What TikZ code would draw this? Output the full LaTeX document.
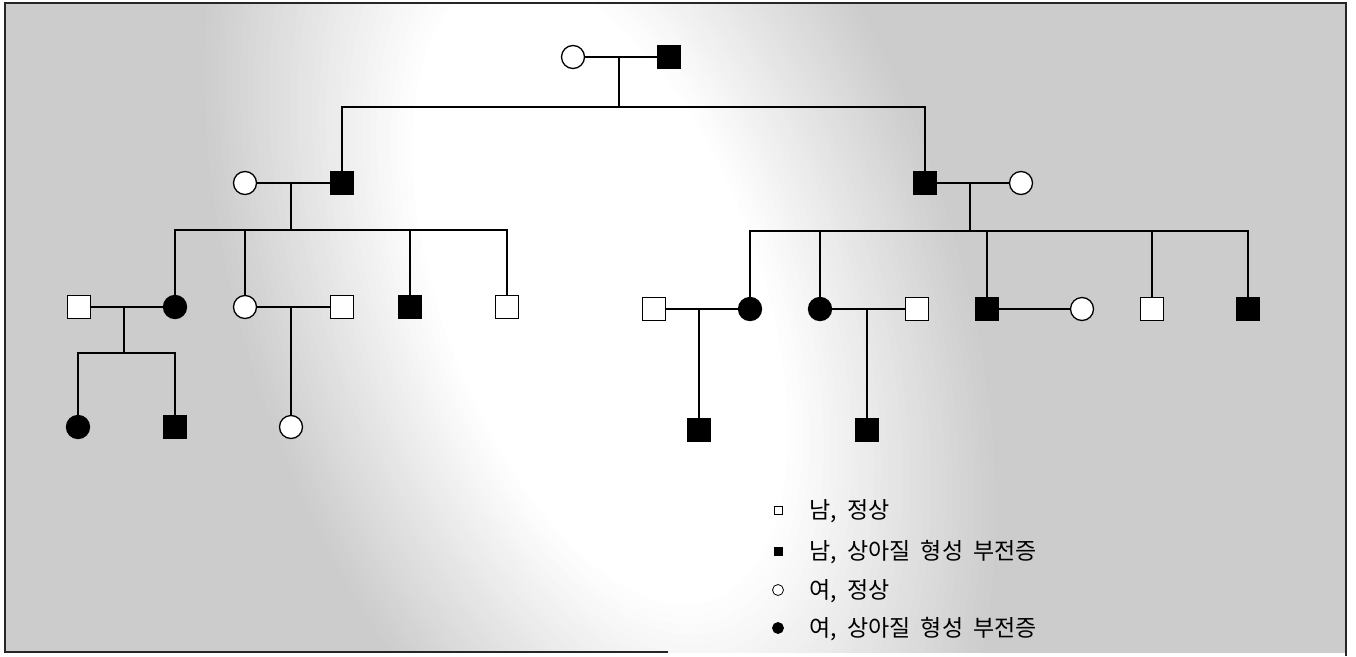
\documentclass[tikz,border=0pt]{standalone}
\usepackage{fontspec}
\newfontfamily\kr[WordSpace=2]{Noto Sans CJK KR}
\usetikzlibrary{calc}
\colorlet{bgray}{black!20}
\tikzset{
  ind/.style={draw=black, line width=1.3pt, inner sep=0pt, fill=white},
  msq/.style={ind, rectangle, minimum size=23pt},
  fci/.style={ind, circle, minimum size=23pt},
  aff/.style={fill=black},
  link/.style={line width=1.2pt, draw=black},
  lgsq/.style={draw=black, line width=0.8pt, rectangle, minimum size=8pt, inner sep=0pt, fill=white},
  lgci/.style={draw=black, line width=0.8pt, circle, minimum size=11pt, inner sep=0pt, fill=white},
  lgtext/.style={anchor=west, inner sep=0pt, font=\kr\fontsize{23}{23}\selectfont},
  frame/.style={line width=1.5pt, draw=black!85}
}
\begin{document}
\begin{tikzpicture}[x=1pt, y=-1pt]
\useasboundingbox (0,0) rectangle (1356,656);
% background (scanned stipple look): grey with a soft white diagonal band
\begin{scope}
  \clip (5,3) rectangle (1346,652);
  \fill[bgray] (0,0) rectangle (1356,656);
  \begin{scope}[transform canvas={shift={(600,290)}, rotate=-70}]
    \foreach \i in {0,...,30} {
      \pgfmathsetmacro\t{\i/30}
      \pgfmathsetmacro\pc{100*\t}
      \pgfmathsetmacro\ra{640-\t*(640-330)}
      \pgfmathsetmacro\rb{360-\t*(360-160)}
      \fill[white!\pc!bgray] (0,0) ellipse [x radius=\ra, y radius=\rb];
    }
  \end{scope}
\end{scope}
\draw[frame] (668,652) -- (5,652) -- (5,3) -- (1346,3) -- (1346,656);

% generation I
\node[fci] (I1) at (573,57) {};
\node[msq, aff] (I2) at (669,57) {};
% generation II
\node[fci] (II1) at (245,183) {};
\node[msq, aff] (II2) at (342,183) {};
\node[msq, aff] (II3) at (925,183) {};
\node[fci] (II4) at (1021,183) {};
% generation III
\node[msq] (III1) at (79,307) {};
\node[fci, aff] (III2) at (175,307) {};
\node[fci] (III3) at (245,307) {};
\node[msq] (III4) at (342,307) {};
\node[msq, aff] (III5) at (410,307) {};
\node[msq] (III6) at (507,307) {};
\node[msq] (III7) at (654,309) {};
\node[fci, aff] (III8) at (750,309) {};
\node[fci, aff] (III9) at (820,309) {};
\node[msq] (III10) at (917,309) {};
\node[msq, aff] (III11) at (987,309) {};
\node[fci] (III12) at (1082,309) {};
\node[msq] (III13) at (1152,309) {};
\node[msq, aff] (III14) at (1248,309) {};
% generation IV
\node[fci, aff] (IV1) at (78,427) {};
\node[msq, aff] (IV2) at (175,427) {};
\node[fci] (IV3) at (291,427) {};
\node[msq, aff] (IV4) at (699,430) {};
\node[msq, aff] (IV5) at (867,430) {};

% junction coordinates
\coordinate (m1) at (619,57);   \coordinate (j1) at (619,107);
\coordinate (m2) at (291,183);  \coordinate (j2) at (291,230);
\coordinate (m3) at (970,183);  \coordinate (j3) at (970,231);
\coordinate (m4) at (124,307);  \coordinate (j4) at (124,353);
\coordinate (m5) at (291,307);
\coordinate (m6) at (699,309);
\coordinate (m7) at (867,309);

% matings
\draw[link] (I1) -- (I2);
\draw[link] (II1) -- (II2);
\draw[link] (II3) -- (II4);
\draw[link] (III1) -- (III2);
\draw[link] (III3) -- (III4);
\draw[link] (III7) -- (III8);
\draw[link] (III9) -- (III10);
\draw[link] (III11) -- (III12);

% descent I -> II
\draw[link] (m1) -- (j1);
\draw[link] (II2) |- (j1) -| (II3);
% descent II(left) -> III
\draw[link] (m2) -- (j2);
\draw[link] (III2) |- (j2) -| (III6);
\draw[link] (III3) -- (III3 |- j2);
\draw[link] (III5) -- (III5 |- j2);
% descent II(right) -> III
\draw[link] (m3) -- (j3);
\draw[link] (III8) |- (j3) -| (III14);
\draw[link] (III9) -- (III9 |- j3);
\draw[link] (III11) -- (III11 |- j3);
\draw[link] (III13) -- (III13 |- j3);
% descent III -> IV
\draw[link] (m4) -- (j4);
\draw[link] (IV1) |- (j4) -| (IV2);
\draw[link] (m5) -- (IV3);
\draw[link] (m6) -- (IV4);
\draw[link] (m7) -- (IV5);

% legend
\node[lgsq] (L1) at (778,510) {};
\node[lgsq, fill=black] (L2) at (778,551) {};
\node[lgci] (L3) at (778,590) {};
\node[lgci, fill=black] (L4) at (778,628) {};
\node[lgtext] (T1) at (809,511) {남, 정상};
\node[lgtext] (T2) at (809,552) {남, 상아질 형성 부전증};
\node[lgtext] (T3) at (809,591) {여, 정상};
\node[lgtext] (T4) at (809,629) {여, 상아질 형성 부전증};
\end{tikzpicture}
\end{document}
